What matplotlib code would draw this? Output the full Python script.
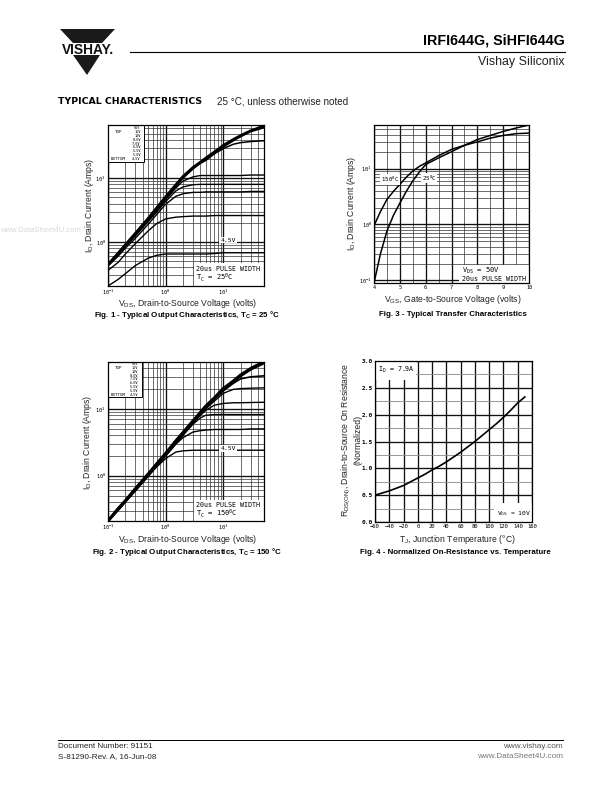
import matplotlib
matplotlib.use("Agg")
import matplotlib.pyplot as plt
from matplotlib.patches import Polygon, Rectangle
from matplotlib.ticker import LogLocator, NullFormatter, FixedLocator

plt.rcParams['font.family'] = ['Liberation Sans', 'DejaVu Sans']
plt.rcParams['mathtext.fontset'] = 'custom'
plt.rcParams['mathtext.rm'] = 'Liberation Sans'
plt.rcParams['mathtext.default'] = 'regular'

# ---- data ----
vds = [0.1, 0.15, 0.2, 0.3, 0.5, 0.7, 1, 1.5, 2, 3, 4, 5, 7, 10, 15, 20, 30, 50]
fig1_top = [.45, .68, .92, 1.4, 2.4, 3.5, 5.2, 8, 10.8, 15, 18, 21, 26, 33, 41, 47, 56, 66]
fig1_10v = [.45, .67, .9, 1.35, 2.3, 3.3, 4.9, 7.6, 10.3, 14.5, 17.5, 20, 25, 31, 39, 45, 54, 62]
fig1_8v = [.45, .67, .9, 1.33, 2.25, 3.2, 4.8, 7.4, 10, 14, 17, 19, 24, 29, 34, 36, 37.5, 38.5]
fig1_7v = [.44, .65, .87, 1.3, 2.2, 3.1, 4.6, 7, 9, 10.5, 11, 11, 11, 11, 11, 11, 11.2, 11.2]
fig1_6v = [.43, .63, .85, 1.25, 2.1, 2.95, 4.3, 6.3, 7.3, 7.9, 8, 8, 8, 8, 8, 8, 8, 8]
fig1_55v = [.42, .6, .8, 1.15, 1.9, 2.7, 3.9, 5.2, 5.7, 6, 6, 6.1, 6.1, 6.1, 6.1, 6.1, 6.2, 6.2]
fig1_5v = [.36, .48, .65, .95, 1.5, 1.95, 2.3, 2.45, 2.5, 2.55, 2.55, 2.55, 2.6, 2.6, 2.6, 2.6, 2.6, 2.6]
fig1_45v = [.205, .26, .32, .43, .56, .62, .65, .65, .65, .65, .65, .65, .66, .68, .68, .68, .68, .68]

fig2_top = [.21, .32, .42, .64, 1.06, 1.5, 2.15, 3.3, 4.4, 6.6, 8.8, 11, 14.5, 20, 26, 32, 40, 50]
fig2_10v = [.21, .32, .42, .63, 1.05, 1.48, 2.1, 3.2, 4.3, 6.5, 8.6, 10.8, 14.2, 19.5, 25.5, 31, 39, 48]
fig2_8v = [.21, .31, .42, .63, 1.05, 1.47, 2.1, 3.2, 4.3, 6.4, 8.5, 10.5, 14, 18.5, 24, 28, 30, 31]
fig2_7v = [.21, .31, .41, .62, 1.03, 1.45, 2.05, 3.15, 4.2, 6.3, 8.2, 10, 13, 17, 19.5, 20, 20.3, 20.5]
fig2_6v = [.21, .31, .41, .61, 1.02, 1.43, 2.0, 3.1, 4.1, 6.1, 8, 9.5, 11.3, 12, 12.3, 12.3, 12.4, 12.5]
fig2_55v = [.21, .31, .41, .6, 1.0, 1.41, 2.0, 3, 4, 5.9, 7.3, 8, 8.2, 8.2, 8.2, 8.2, 8.2, 8.2]
fig2_5v = [.21, .31, .41, .6, 1, 1.4, 1.95, 2.95, 3.7, 4.5, 4.7, 4.8, 4.9, 4.9, 4.9, 4.9, 5, 5]
fig2_45v = [.21, .3, .4, .59, .98, 1.35, 1.8, 2.25, 2.35, 2.4, 2.4, 2.4, 2.4, 2.4, 2.4, 2.4, 2.4, 2.4]

vgs = [4, 4.25, 4.5, 4.75, 5, 5.25, 5.5, 5.75, 6, 6.5, 7, 7.5, 8, 8.5, 9, 9.5, 10]
fig3_25c = [.09, .3, .76, 1.45, 2.4, 3.9, 6, 8.6, 11.8, 15.5, 20, 26, 33, 39, 46, 53, 60]
fig3_150c = [.95, 1.7, 2.8, 3.9, 5.2, 7, 9, 10.9, 12.6, 17, 22, 26, 30, 35, 39, 42, 43]

tj = [-60, -50, -40, -30, -20, -10, 0, 10, 20, 30, 40, 50, 60, 70, 80, 90, 100, 110, 120, 130, 140, 150]
fig4_rds = [.5, .54, .58, .63, .68, .75, .82, .89, .97, 1.04, 1.12, 1.21, 1.3, 1.4, 1.5, 1.61, 1.72, 1.83, 1.95,
            2.08, 2.22, 2.33]
fig4_xticks = [-60, -40, -20, 0, 20, 40, 60, 80, 100, 120, 140, 160]

legend_rows = ["VGS", "15V", "10V", "8.0V", "7.0V", "6.0V", "5.5V", "5.0V", "4.5V"]
log_labels = {0.1: "10$^{-1}$", 1: "10$^{0}$", 10: "10$^{1}$"}

W, H = 612, 792
fig = plt.figure(figsize=(W / 100, H / 100), dpi=100, facecolor="white")
PX = 0.72
MONO = 'DejaVu Sans Mono'
TICK = 3.8


def make_axes(l, t, r, b):
    return fig.add_axes([l / W, 1 - b / H, (r - l) / W, (b - t) / H])


def style(ax):
    for s in ax.spines.values():
        s.set_linewidth(0.9)
    ax.tick_params(which='both', length=0, pad=1.5)
    ax.set_axisbelow(True)
    ax.grid(which='major', color='#111111', lw=0.95)
    ax.grid(which='minor', color='#333333', lw=0.5)


def set_log_y(ax, ticks):
    ax.set_yscale('log')
    ax.yaxis.set_major_locator(FixedLocator(ticks))
    ax.yaxis.set_minor_locator(LogLocator(base=10, subs=range(2, 10), numticks=12))
    ax.yaxis.set_minor_formatter(NullFormatter())
    ax.set_yticklabels([log_labels[v] for v in ticks], fontsize=TICK, family=MONO)


def set_log_x(ax, ticks):
    ax.set_xscale('log')
    ax.xaxis.set_major_locator(FixedLocator(ticks))
    ax.xaxis.set_minor_locator(LogLocator(base=10, subs=range(2, 10), numticks=12))
    ax.xaxis.set_minor_formatter(NullFormatter())
    ax.set_xticklabels([log_labels[v] for v in ticks], fontsize=TICK, family=MONO)


def white_box(ax, x0, y0, x1, y1, ec='none'):
    ax.add_patch(Rectangle((x0, y0), x1 - x0, y1 - y0, transform=ax.transAxes,
                           fc='white', ec=ec, lw=0.7, zorder=2.5))


def volt_legend(ax, x1, y0):
    white_box(ax, 0, y0, x1, 1, ec='black')
    n = len(legend_rows)
    h = 1 - y0
    row_y = [1 - (0.07 + i * 0.86 / (n - 1)) * h for i in range(n)]
    ax.text(0.045, row_y[1], "TOP", fontsize=3.0, family=MONO, va='center', zorder=3, transform=ax.transAxes)
    ax.text(0.02, row_y[-1], "BOTTOM", fontsize=3.0, family=MONO, va='center', zorder=3, transform=ax.transAxes)
    for y, v in zip(row_y, legend_rows):
        ax.text(x1 - 0.02, y, v, fontsize=2.6, family=MONO, va='center', ha='right', zorder=3,
                transform=ax.transAxes)


# ---- Fig. 1 ----
ax1 = make_axes(108, 125, 264, 286)
set_log_x(ax1, [0.1, 1, 10])
set_log_y(ax1, [1, 10])
ax1.set_xlim(0.1, 51)
ax1.set_ylim(0.205, 68)
style(ax1)
for ys, lw in [(fig1_45v, 1), (fig1_5v, 1), (fig1_55v, 1), (fig1_6v, 1), (fig1_7v, 1), (fig1_8v, 1.1),
               (fig1_10v, 1.5), (fig1_top, 1.5)]:
    ax1.plot(vds, ys, color='black', lw=lw, zorder=4)
white_box(ax1, 0.55, 0, 1, 0.14)
volt_legend(ax1, 0.23, 0.77)
ax1.text(0.565, 0.103, "20us PULSE WIDTH", fontsize=4.8, family=MONO, va='center', zorder=5, transform=ax1.transAxes)
ax1.text(0.565, 0.05, "T$_C$ = 25$^0$C", fontsize=5, family=MONO, va='center', zorder=5, transform=ax1.transAxes)
ax1.text(0.72, 0.285, "4.5V", fontsize=4.6, family=MONO, va='center', zorder=5, transform=ax1.transAxes,
         bbox=dict(fc='white', ec='none', pad=0.6))

# ---- Fig. 2 ----
ax2 = make_axes(108, 362, 264, 521)
set_log_x(ax2, [0.1, 1, 10])
set_log_y(ax2, [1, 10])
ax2.set_xlim(0.1, 51)
ax2.set_ylim(0.21, 50)
style(ax2)
for ys, lw in [(fig2_45v, 1), (fig2_5v, 1), (fig2_55v, 1), (fig2_6v, 1), (fig2_7v, 1), (fig2_8v, 1.2),
               (fig2_10v, 2), (fig2_top, 2.2)]:
    ax2.plot(vds, ys, color='black', lw=lw, zorder=4)
white_box(ax2, 0.55, 0, 1, 0.135)
volt_legend(ax2, 0.215, 0.78)
ax2.text(0.565, 0.1, "20us PULSE WIDTH", fontsize=4.8, family=MONO, va='center', zorder=5, transform=ax2.transAxes)
ax2.text(0.565, 0.045, "T$_C$ = 150$^0$C", fontsize=5, family=MONO, va='center', zorder=5, transform=ax2.transAxes)
ax2.text(0.72, 0.455, "4.5V", fontsize=4.6, family=MONO, va='center', zorder=5, transform=ax2.transAxes,
         bbox=dict(fc='white', ec='none', pad=0.6))

# ---- Fig. 3 ----
ax3 = make_axes(374, 125, 529, 283)
ax3.set_xlim(4, 10)
set_log_y(ax3, [0.1, 1, 10])
ax3.set_ylim(0.09, 60)
ax3.set_xticks([4, 5, 6, 7, 8, 9, 10])
ax3.set_xticks([4.5, 5.5, 6.5, 7.5, 8.5, 9.5], minor=True)
ax3.tick_params(axis='x', labelsize=TICK)
for lab in ax3.get_xticklabels():
    lab.set_family(MONO)
style(ax3)
ax3.plot(vgs, fig3_25c, color='black', lw=1.1, zorder=4)
ax3.plot(vgs, fig3_150c, color='black', lw=1.1, zorder=4)
white_box(ax3, 0.55, 0, 1, 0.115)
ax3.text(0.565, 0.078, "V$_{DS}$ = 50V", fontsize=5, family=MONO, va='center', zorder=5, transform=ax3.transAxes)
ax3.text(0.565, 0.027, "20us PULSE WIDTH", fontsize=4.8, family=MONO, va='center', zorder=5, transform=ax3.transAxes)
ax3.text(4.62, 6.4, "150$^0$C", fontsize=4.2, family=MONO, ha='center', va='center', zorder=5,
         bbox=dict(fc='white', ec='none', pad=0.4))
ax3.text(6.14, 6.8, "25$^0$C", fontsize=4.2, family=MONO, ha='center', va='center', zorder=5,
         bbox=dict(fc='white', ec='none', pad=0.4))

# ---- Fig. 4 ----
ax4 = make_axes(375, 361, 532, 522)
ax4.set_xlim(-60, 160)
ax4.set_ylim(0, 3)
ax4.set_xticks(fig4_xticks)
ax4.set_yticks([0, 0.5, 1, 1.5, 2, 2.5, 3])
ax4.set_yticks([0.25, 0.75, 1.25, 1.75, 2.25, 2.75], minor=True)
ax4.set_yticklabels(["0.0", "0.5", "1.0", "1.5", "2.0", "2.5", "3.0"], fontsize=4.4, family=MONO, fontweight='bold')
ax4.set_xticklabels([str(v).replace('-', '\u2212') for v in fig4_xticks], fontsize=4.0, family=MONO)
style(ax4)
ax4.grid(which='minor', color='#888888', lw=0.6)
ax4.plot(tj, fig4_rds, color='black', lw=1.2, zorder=4)
white_box(ax4, 0, 0.885, 0.26, 1)
ax4.text(0.02, 0.945, "I$_D$ = 7.9A", fontsize=4.8, family=MONO, va='center', zorder=5, transform=ax4.transAxes)
white_box(ax4, 0.76, 0, 1, 0.12)
ax4.text(0.775, 0.05, "V$_{GS}$ = 10V", fontsize=4.6, family=MONO, va='center', zorder=5, transform=ax4.transAxes)

# ---- page overlay in pixel coordinates ----
pg = fig.add_axes([0, 0, 1, 1], facecolor='none', zorder=10)
pg.set_xlim(0, W)
pg.set_ylim(H, 0)
pg.axis('off')


def T(x, y, s, px, ha='left', weight='normal', color='black', rot=0, **kw):
    pg.text(x, y, s, fontsize=px * PX, ha=ha, va='center', fontweight=weight, color=color,
            rotation=rot, clip_on=False, **kw)


pg.add_patch(Polygon([(60, 29), (115, 29), (102, 43), (73, 43)], fc='#1a1a1a', ec='none'))
pg.add_patch(Polygon([(73, 55), (100, 55), (87, 75)], fc='#1a1a1a', ec='none'))
T(87.5, 49.5, "VISHAY.", 13.8, ha='center', weight='bold', color='#111111')
pg.plot([130, 565], [52, 52], color='black', lw=0.8)
T(565, 40.5, "IRFI644G, SiHFI644G", 14.2, ha='right', weight='bold')
T(565, 62, "Vishay Siliconix", 12.4, ha='right', color='#222222')
T(58, 101, "TYPICAL CHARACTERISTICS", 9.4, weight='bold', family='DejaVu Sans')
T(217, 101, "25 \u00b0C, unless otherwise noted", 9.9, color='#222222')
T(0, 230, "www.DataSheet4U.com", 7.6, color='#d9d9d9')

LAB = 8.7
T(90, 205, "I$_D$, Drain Current (Amps)", LAB, ha='center', rot=90, color='#222222')
T(188, 303, "V$_{DS}$, Drain-to-Source Voltage (volts)", LAB, ha='center', color='#222222')
T(187, 315, "Fig. 1 - Typical Output Characteristics, T$_C$ = 25 \u00b0C", 7.9, ha='center', weight='bold')

T(352, 203, "I$_D$, Drain Current (Amps)", LAB, ha='center', rot=90, color='#222222')
T(453, 300, "V$_{GS}$, Gate-to-Source Voltage (volts)", LAB, ha='center', color='#222222')
T(453, 315, "Fig. 3 - Typical Transfer Characteristics", 7.9, ha='center', weight='bold')

T(88, 442, "I$_D$, Drain Current (Amps)", LAB, ha='center', rot=90, color='#222222')
T(188, 539, "V$_{DS}$, Drain-to-Source Voltage (volts)", LAB, ha='center', color='#222222')
T(187, 552, "Fig. 2 - Typical Output Characteristics, T$_C$ = 150 \u00b0C", 7.9, ha='center', weight='bold')

T(346, 440, "R$_{DS(ON)}$, Drain-to-Source On Resistance", LAB, ha='center', rot=90, color='#222222')
T(358, 440, "(Normalized)", LAB, ha='center', rot=90, color='#222222')
T(457, 539, "T$_J$, Junction Temperature (\u00b0C)", LAB, ha='center', color='#222222')
T(455, 552, "Fig. 4 - Normalized On-Resistance vs. Temperature", 7.9, ha='center', weight='bold')

pg.plot([58, 563], [739.5, 739.5], color='black', lw=0.7)
T(58, 747, "Document Number: 91151", 8.2, color='#222222')
T(58, 757, "S-81290-Rev. A, 16-Jun-08", 8.2, color='#222222')
T(563, 747, "www.vishay.com", 8.2, ha='right', color='#555555')
T(563, 757, "www.DataSheet4U.com", 8.2, ha='right', color='#777777')

fig.savefig("out.png", dpi=100)
